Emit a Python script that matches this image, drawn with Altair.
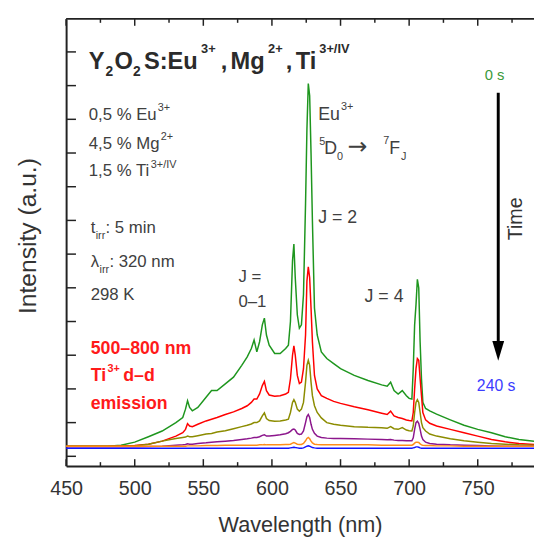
import altair as alt
import pandas as pd

FONT = "Liberation Sans"

# ---------------- data ----------------
wavelength = [
    450, 480, 490, 500, 510, 520, 530, 535, 537, 538.5,
    540, 542, 546, 552, 556, 560, 566, 572, 578, 582,
    585, 587, 589, 591, 593, 594.5, 596, 598, 602, 606,
    610, 612, 613.5, 615, 616, 617, 618.5, 620, 621.5, 623,
    624.5, 625.5, 626.5, 627.5, 628.5, 629.5, 631, 633, 636, 640,
    645, 650, 660, 670, 680, 684, 686.5, 689, 692, 695,
    698, 700, 702, 703, 704, 705, 706, 707, 708, 709,
    710, 712, 715, 720, 730, 740, 750, 760, 770, 780, 791,
]
green_0s = [
    0.30, 0.30, 0.33, 0.42, 0.58, 0.75, 1.00, 1.15, 1.40, 1.65,
    1.45, 1.35, 1.45, 1.75, 1.95, 1.95, 2.15, 2.35, 2.70, 2.95,
    3.20, 3.45, 3.10, 3.40, 3.90, 4.10, 3.60, 3.30, 3.05, 3.05,
    3.20, 3.30, 4.00, 5.80, 6.30, 5.30, 4.20, 3.80, 3.90, 4.80,
    7.50, 9.70, 11.06, 10.70, 9.00, 7.00, 4.40, 3.60, 3.10, 2.90,
    2.75, 2.60, 2.40, 2.25, 2.12, 2.08, 2.20, 1.95, 1.85, 1.95,
    1.80, 1.72, 1.70, 2.60, 3.90, 4.50, 5.25, 5.00, 3.40, 2.30,
    1.60, 1.42, 1.35, 1.25, 1.08, 0.92, 0.80, 0.70, 0.58, 0.50, 0.45,
]
red = [
    0.30, 0.30, 0.31, 0.32, 0.36, 0.45, 0.60, 0.70, 0.80, 0.97,
    0.90, 0.88, 0.95, 1.05, 1.10, 1.15, 1.24, 1.32, 1.42, 1.50,
    1.60, 1.70, 1.70, 1.85, 2.10, 2.22, 1.95, 1.82, 1.78, 1.80,
    1.85, 1.90, 2.30, 3.00, 3.28, 3.00, 2.40, 2.16, 2.20, 2.60,
    3.60, 5.20, 5.62, 5.30, 4.40, 3.40, 2.40, 2.00, 1.80, 1.72,
    1.63, 1.57, 1.47, 1.38, 1.28, 1.24, 1.34, 1.20, 1.15, 1.12,
    1.08, 1.06, 1.05, 1.30, 2.00, 2.60, 2.90, 2.85, 2.30, 1.80,
    1.30, 1.08, 0.98, 0.90, 0.80, 0.70, 0.60, 0.50, 0.43, 0.38, 0.35,
]
olive = [
    0.30, 0.30, 0.30, 0.31, 0.36, 0.45, 0.53, 0.56, 0.57, 0.60,
    0.58, 0.58, 0.61, 0.66, 0.68, 0.72, 0.76, 0.82, 0.88, 0.92,
    0.96, 1.00, 1.00, 1.05, 1.20, 1.29, 1.12, 1.06, 1.04, 1.05,
    1.08, 1.10, 1.30, 1.60, 1.68, 1.60, 1.40, 1.34, 1.40, 1.60,
    2.20, 2.70, 2.85, 2.70, 2.20, 1.80, 1.50, 1.30, 1.14, 1.00,
    0.95, 0.92, 0.88, 0.86, 0.85, 0.83, 0.88, 0.82, 0.80, 0.85,
    0.78, 0.76, 0.75, 0.90, 1.30, 1.60, 1.68, 1.60, 1.30, 1.00,
    0.85, 0.75, 0.66, 0.60, 0.52, 0.46, 0.42, 0.38, 0.36, 0.34, 0.33,
]
purple = [
    0.28, 0.28, 0.28, 0.28, 0.29, 0.30, 0.33, 0.34, 0.35, 0.37,
    0.36, 0.36, 0.38, 0.40, 0.42, 0.43, 0.45, 0.47, 0.50, 0.52,
    0.54, 0.56, 0.56, 0.58, 0.62, 0.64, 0.60, 0.60, 0.62, 0.64,
    0.67, 0.70, 0.74, 0.80, 0.81, 0.78, 0.68, 0.65, 0.66, 0.75,
    1.00, 1.18, 1.24, 1.15, 0.95, 0.80, 0.68, 0.60, 0.56, 0.54,
    0.53, 0.53, 0.52, 0.51, 0.50, 0.49, 0.50, 0.48, 0.47, 0.47,
    0.46, 0.46, 0.46, 0.55, 0.80, 1.00, 1.04, 0.98, 0.80, 0.60,
    0.50, 0.42, 0.38, 0.36, 0.34, 0.33, 0.32, 0.31, 0.30, 0.30, 0.30,
]
orange = [
    0.30, 0.30, 0.30, 0.30, 0.30, 0.30, 0.30, 0.30, 0.30, 0.31,
    0.31, 0.31, 0.31, 0.32, 0.32, 0.32, 0.33, 0.33, 0.33, 0.33,
    0.33, 0.33, 0.33, 0.34, 0.34, 0.35, 0.34, 0.34, 0.34, 0.34,
    0.35, 0.35, 0.36, 0.39, 0.41, 0.39, 0.36, 0.35, 0.35, 0.38,
    0.46, 0.53, 0.56, 0.52, 0.45, 0.40, 0.36, 0.35, 0.34, 0.34,
    0.34, 0.34, 0.34, 0.34, 0.33, 0.33, 0.33, 0.33, 0.33, 0.33,
    0.33, 0.33, 0.33, 0.35, 0.39, 0.42, 0.42, 0.41, 0.37, 0.34,
    0.33, 0.32, 0.32, 0.31, 0.31, 0.30, 0.30, 0.30, 0.30, 0.30, 0.30,
]
blue_240s = [
    0.24, 0.24, 0.24, 0.24, 0.24, 0.24, 0.24, 0.24, 0.24, 0.24,
    0.24, 0.24, 0.24, 0.24, 0.24, 0.24, 0.24, 0.24, 0.24, 0.24,
    0.24, 0.24, 0.24, 0.24, 0.24, 0.24, 0.24, 0.24, 0.24, 0.24,
    0.24, 0.24, 0.25, 0.26, 0.27, 0.26, 0.25, 0.24, 0.24, 0.25,
    0.28, 0.30, 0.31, 0.30, 0.28, 0.26, 0.25, 0.24, 0.24, 0.24,
    0.24, 0.24, 0.24, 0.24, 0.24, 0.24, 0.24, 0.24, 0.24, 0.24,
    0.24, 0.24, 0.24, 0.25, 0.26, 0.28, 0.28, 0.27, 0.25, 0.24,
    0.24, 0.24, 0.24, 0.24, 0.24, 0.24, 0.24, 0.24, 0.24, 0.24, 0.24,
]
series = [green_0s, red, olive, purple, orange, blue_240s]
series_colors = ["#1e961e", "#ff0000", "#8c8c00", "#8c168c", "#ff8c1a", "#1414ff"]

x_major = [450, 500, 550, 600, 650, 700, 750]
x_minor = [475, 525, 575, 625, 675, 725, 775]
y_ticks = [0, 1, 2, 3, 4, 5, 6, 7, 8, 9, 10, 11, 12]

# ---------------- layout ----------------
W, H = 475, 454
OX, OY = 67, 15  # plot origin in page pixels
xs = alt.Scale(domain=[450, 791], nice=False, zero=False)
ys = alt.Scale(domain=[-0.29, 12.98], nice=False, zero=False)
AX = "#222222"
TXT = "#404040"

xaxis = alt.Axis(values=x_major, title="Wavelength (nm)", ticks=False, grid=False,
                 labelFontSize=20, labelFont=FONT, labelColor="#333333", labelPadding=13,
                 labelFlush=False, domainColor=AX, domainWidth=2,
                 titleFontSize=22, titleFont=FONT, titleColor="#333333",
                 titleFontWeight="normal", titleY=66, titleBaseline="alphabetic")
yaxis = alt.Axis(title="Intensity (a.u.)", labels=False, ticks=False, grid=False,
                 domainColor=AX, domainWidth=2,
                 titleFontSize=25, titleFont=FONT, titleColor="#333333",
                 titleFontWeight="normal", titleAngle=270, titleX=-31, titleY=220,
                 titleBaseline="alphabetic", titleAlign="center")

layers = []
for vals, col in zip(series, series_colors):
    df = pd.DataFrame({"wl": wavelength, "I": vals})
    layers.append(
        alt.Chart(df).mark_line(color=col, strokeWidth=1.5, clip=True).encode(
            x=alt.X("wl:Q", scale=xs, axis=xaxis, title="Wavelength (nm)"),
            y=alt.Y("I:Q", scale=ys, axis=yaxis, title="Intensity (a.u.)"),
        )
    )

# inward ticks
ydf = pd.DataFrame({"k": y_ticks})
layers.append(alt.Chart(ydf).mark_rule(color=AX, strokeWidth=1.5).encode(
    y=alt.Y("k:Q", scale=ys, axis=yaxis, title="Intensity (a.u.)"),
    x=alt.value(0), x2=alt.value(10)))
for vals, ln in [(x_major, 7), (x_minor, 4)]:
    tdf = pd.DataFrame({"t": vals})
    layers.append(alt.Chart(tdf).mark_rule(color=AX, strokeWidth=1.5).encode(
        x=alt.X("t:Q", scale=xs, axis=xaxis, title="Wavelength (nm)"),
        y=alt.value(H), y2=alt.value(H - ln)))
    layers.append(alt.Chart(tdf).mark_rule(color=AX, strokeWidth=1.5).encode(
        x=alt.X("t:Q", scale=xs, axis=xaxis, title="Wavelength (nm)"),
        y=alt.value(0), y2=alt.value(ln)))

ONE = pd.DataFrame({"a": [0]})
# top frame line
layers.append(alt.Chart(ONE).mark_rule(color=AX, strokeWidth=2).encode(
    x=alt.value(0), x2=alt.value(W), y=alt.value(0)))


def label(text, px, py, size, color=TXT, bold=False, angle=0, align="left",
          baseline="alphabetic", font=FONT):
    return alt.Chart(ONE).mark_text(
        text=text, fontSize=size, font=font, color=color,
        fontWeight="bold" if bold else "normal", align=align, baseline=baseline, angle=angle,
    ).encode(x=alt.value(px - OX), y=alt.value(py - OY))


TITLE = "#2b2b2b"
annotations = [
    # title  Y2O2S:Eu3+,Mg2+,Ti3+/IV
    ("Y", 90, 66, 24, TITLE, True), ("2", 107, 73, 14, TITLE, True),
    ("O", 116, 66, 24, TITLE, True), ("2", 135, 73, 14, TITLE, True),
    ("S:Eu", 146, 66, 24, TITLE, True), ("3+", 204, 50, 13, TITLE, True),
    (",", 224, 66, 24, TITLE, True), ("Mg", 234, 66, 24, TITLE, True),
    ("2+", 272, 50, 13, TITLE, True), (",", 290, 66, 24, TITLE, True),
    ("Ti", 300, 66, 24, TITLE, True), ("3+/IV", 324, 50, 13, TITLE, True),
    # composition
    ("0,5 % Eu", 90, 118, 17, TXT, False), ("3+", 160, 109, 11, TXT, False),
    ("4,5 % Mg", 90, 147, 17, TXT, False), ("2+", 163, 138, 11, TXT, False),
    ("1,5 % Ti", 90, 175, 17, TXT, False), ("3+/IV", 153, 166, 11, TXT, False),
    # conditions
    ("t", 92, 232, 17, TXT, False), ("irr", 97, 238, 11, TXT, False),
    (": 5 min", 107, 232, 17, TXT, False),
    ("λ", 92, 267, 17, TXT, False), ("irr", 101, 273, 11, TXT, False),
    (": 320 nm", 111, 267, 17, TXT, False),
    ("298 K", 92, 300, 17, TXT, False),
    # red
    ("500–800 nm", 92, 355, 18, "#ff1a1a", True),
    ("Ti", 92, 383, 18, "#ff1a1a", True), ("3+", 109, 373, 11, "#ff1a1a", True),
    ("d–d", 125, 383, 18, "#ff1a1a", True),
    ("emission", 92, 411, 18, "#ff1a1a", True),
    # transitions
    ("Eu", 323, 118, 18, TXT, False), ("3+", 346, 108, 11, TXT, False),
    ("5", 324, 143, 11, TXT, False), ("D", 329, 152, 18, TXT, False),
    ("0", 342, 158, 11, TXT, False),
    ("7", 389, 142, 11, TXT, False), ("F", 395, 152, 18, TXT, False),
    ("J", 407, 158, 11, TXT, False),
    ("J = 2", 323, 222, 18, TXT, False),
    ("J = 4", 370, 302, 18, TXT, False),
    ("J =", 242, 282, 17, TXT, False),
    ("0–1", 242, 307, 17, TXT, False),
    ("0 s", 492, 77, 15, "#3a9a3a", False),
    ("240 s", 484, 393, 16, "#3c3cff", False),
]
for t, px, py, sz, col, b in annotations:
    layers.append(label(t, px, py, sz, col, b))
layers.append(label("→", 353, 152, 24, TXT, False, font="DejaVu Sans"))
layers.append(label("Time", 524, 218, 20, "#333333", False, angle=270, align="center", baseline="middle"))

# time arrow
layers.append(alt.Chart(ONE).mark_rule(color="black", strokeWidth=3).encode(
    x=alt.value(505.7 - OX), y=alt.value(90 - OY), y2=alt.value(344 - OY)))
layers.append(alt.Chart(ONE).mark_point(
    shape="M-0.6,-1L0.6,-1L0,1Z", filled=True, size=400, color="black", opacity=1,
).encode(x=alt.value(505.7 - OX), y=alt.value(352 - OY)))

chart = alt.layer(*layers).properties(
    width=W, height=H,
    autosize=alt.AutoSizeParams(type="none"),
    padding={"left": OX - 8, "top": OY - 8, "right": 0, "bottom": 72},
).configure_view(stroke=None)

chart.save("out.html", embed_options={"renderer": "svg", "actions": False})
